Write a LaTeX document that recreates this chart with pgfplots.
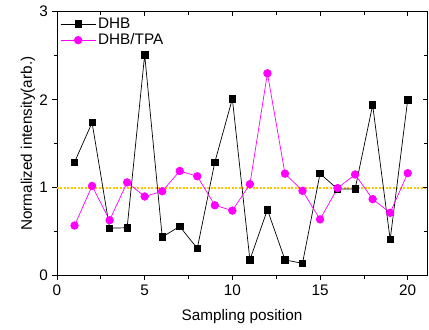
\documentclass[border=0pt]{standalone}
\usepackage{pgfplots}
\pgfplotsset{compat=1.18}
\usepackage{fontspec}
\setmainfont{Liberation Sans}
\definecolor{reflinecol}{RGB}{255,196,0}
\definecolor{mag}{RGB}{255,0,255}
\begin{document}
\begin{tikzpicture}
\pgfplotsset{
  common/.style={
    scale only axis, width=370pt, height=264pt,
    xmin=0, xmax=21.1, ymin=0, ymax=3,
    xtick={0,5,10,15,20}, minor xtick={2.5,7.5,12.5,17.5},
    ytick={0,1,2,3}, minor ytick={0.5,1.5,2.5},
    axis line style={line width=0.8pt},
    major tick length=4.5pt, minor tick length=3pt,
    tick style={line width=0.7pt, black},
  }
}
\begin{axis}[common,
  tick align=outside, xtick pos=left, ytick pos=left,
  /pgf/number format/assume math mode=true,
  tick label style={font=\fontsize{15.3}{17}\selectfont},
  xticklabel style={yshift=-1pt},
  yticklabel style={xshift=-1pt},
  xlabel={Sampling position}, ylabel={Normalized intensity(arb.)},
  label style={font=\fontsize{15.3}{17}\selectfont},
  xlabel style={at={(axis description cs:0.5,0)}, anchor=base, yshift=-45pt},
  ylabel style={at={(axis description cs:-0.0676,0.5)}, anchor=base},
  legend style={at={(axis description cs:0.008,0.985)}, anchor=north west, draw=none, fill=none,
    font=\fontsize{15.3}{17}\selectfont, row sep=0pt,
    inner xsep=0pt, inner ysep=0pt},
  legend cell align=left,
  legend image code/.code={\draw[mark repeat=2,mark phase=2] plot coordinates {(0cm,0cm) (0.62cm,0cm) (1.24cm,0cm)};},
]
\addplot[draw=reflinecol, dash pattern=on 1.6pt off 1.9pt, line width=1.6pt, no marks, forget plot] coordinates {(0,1) (21.1,1)};
\addplot[black, line width=0.7pt, mark=square*, mark size=3.2pt, mark options={solid}] coordinates {
(1,1.29) (2,1.74) (3,0.54) (4,0.545) (5,2.51) (6,0.44) (7,0.56) (8,0.31) (9,1.29) (10,2.01)
(11,0.18) (12,0.75) (13,0.18) (14,0.14) (15,1.16) (16,0.985) (17,0.985) (18,1.94) (19,0.41) (20,2.00)};
\addlegendentry{DHB}
\addplot[mag, line width=0.7pt, mark=*, mark size=3.8pt, mark options={solid}] coordinates {
(1,0.57) (2,1.02) (3,0.63) (4,1.06) (5,0.90) (6,0.96) (7,1.19) (8,1.13) (9,0.80) (10,0.74)
(11,1.04) (12,2.30) (13,1.16) (14,0.965) (15,0.64) (16,0.995) (17,1.15) (18,0.87) (19,0.715) (20,1.165)};
\addlegendentry{DHB/TPA}
\end{axis}
\begin{axis}[common,
  tick align=inside, xtick pos=right, ytick pos=right,
  xticklabels={}, yticklabels={}, axis line style={draw=none},
]
\end{axis}
\pgfresetboundingbox
\path ([xshift=-57pt,yshift=-54pt]current axis.south west) ([xshift=2pt,yshift=11.7pt]current axis.north east);
\end{tikzpicture}
\end{document}
